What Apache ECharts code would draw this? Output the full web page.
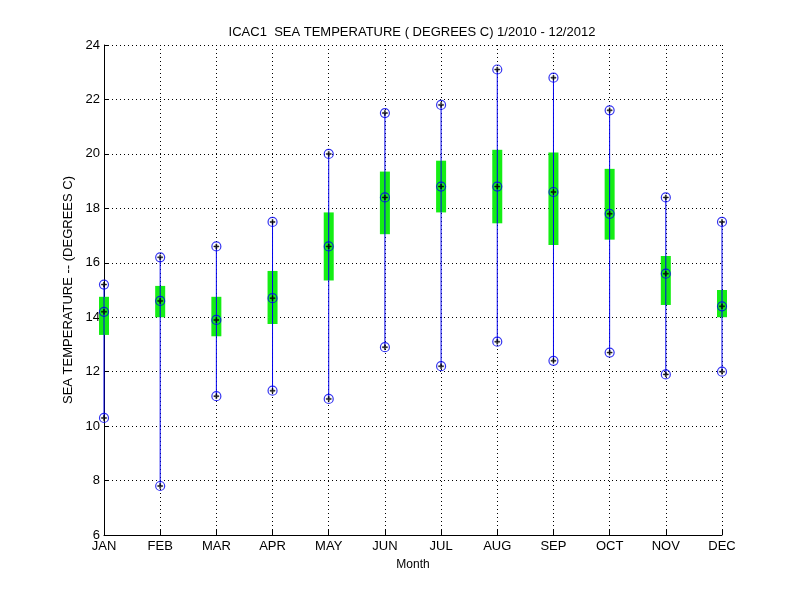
<!DOCTYPE html>
<html>
<head>
<meta charset="utf-8">
<script src="https://cdn.jsdelivr.net/npm/echarts@6/dist/echarts.min.js"></script>
<style>
  html, body { margin: 0; padding: 0; background: #fff; }
  #main { width: 800px; height: 600px; }
</style>
</head>
<body>
<div id="main"></div>
<script>
var months = ['JAN', 'FEB', 'MAR', 'APR', 'MAY', 'JUN', 'JUL', 'AUG', 'SEP', 'OCT', 'NOV', 'DEC'];
var maxTemp  = [15.2, 16.2, 16.6, 17.5, 20.0, 21.5, 21.8, 23.1, 22.8, 21.6, 18.4, 17.5];
var meanTemp = [14.2, 14.6, 13.9, 14.7, 16.6, 18.4, 18.8, 18.8, 18.6, 17.8, 15.6, 14.4];
var minTemp  = [10.3, 7.8, 11.1, 11.3, 11.0, 12.9, 12.2, 13.1, 12.4, 12.7, 11.9, 12.0];
var boxTop    = [14.75, 15.15, 14.75, 15.7, 17.85, 19.35, 19.75, 20.15, 20.05, 19.45, 16.25, 15.0];
var boxBottom = [13.35, 14.0, 13.3, 13.75, 15.35, 17.05, 17.85, 17.45, 16.65, 16.85, 14.45, 14.0];

var rangeData = [];
var pointData = [];
for (var i = 0; i < months.length; i++) {
    rangeData.push([i + 1, minTemp[i], maxTemp[i], boxBottom[i], boxTop[i]]);
    pointData.push([i + 1, maxTemp[i]]);
    pointData.push([i + 1, meanTemp[i]]);
    pointData.push([i + 1, minTemp[i]]);
}

var font = 'Liberation Sans, Arial, sans-serif';
var dotted = { color: '#000', width: 1, type: [1, 3] };

var myChart = echarts.init(document.getElementById('main'));
myChart.setOption({
    backgroundColor: '#fff',
    animation: false,
    title: {
        text: 'ICAC1  SEA TEMPERATURE ( DEGREES C) 1/2010 - 12/2012',
        left: 407,
        textAlign: 'center',
        top: 21,
        textStyle: { fontFamily: font, fontSize: 13, fontWeight: 'normal', color: '#000' }
    },
    grid: { left: 104, right: 78, top: 45, bottom: 65 },
    xAxis: {
        type: 'value',
        min: 1,
        max: 12,
        interval: 1,
        name: 'Month',
        nameLocation: 'middle',
        nameGap: 24,
        nameTextStyle: { fontFamily: font, fontSize: 12, color: '#000' },
        axisLine: { lineStyle: { color: '#000', width: 1 } },
        axisTick: { inside: true, length: 5, lineStyle: { color: '#000' } },
        axisLabel: {
            margin: 5,
            fontFamily: font, fontSize: 13, color: '#000',
            formatter: function (v) { return months[v - 1] || ''; }
        },
        splitLine: { show: true, lineStyle: dotted }
    },
    yAxis: {
        type: 'value',
        min: 6,
        max: 24,
        interval: 2,
        name: 'SEA TEMPERATURE -- (DEGREES C)',
        nameLocation: 'middle',
        nameGap: 16,
        nameTextStyle: { fontFamily: font, fontSize: 13, color: '#000' },
        axisLine: { show: true, lineStyle: { color: '#000', width: 1 } },
        axisTick: { show: true, inside: true, length: 5, lineStyle: { color: '#000' } },
        axisLabel: { margin: 4, fontFamily: font, fontSize: 13, color: '#000' },
        splitLine: { show: true, lineStyle: dotted }
    },
    series: [
        {
            type: 'custom',
            data: rangeData,
            z: 2,
            renderItem: function (params, api) {
                var x = api.value(0);
                var pLow = api.coord([x, api.value(1)]);
                var pHigh = api.coord([x, api.value(2)]);
                var bLow = api.coord([x, api.value(3)]);
                var bHigh = api.coord([x, api.value(4)]);
                var w = 10;
                return {
                    type: 'group',
                    children: [
                        {
                            type: 'rect',
                            shape: { x: bHigh[0] - w / 2, y: bHigh[1], width: w, height: bLow[1] - bHigh[1] },
                            style: { fill: '#14ee14' }
                        },
                        {
                            type: 'line',
                            shape: { x1: pHigh[0], y1: pHigh[1], x2: pLow[0], y2: pLow[1] },
                            style: { stroke: '#0000ee', lineWidth: 1 }
                        }
                    ]
                };
            }
        },
        {
            type: 'scatter',
            data: pointData,
            z: 3,
            symbol: 'circle',
            symbolSize: 9,
            itemStyle: { color: 'rgba(0,0,0,0)', borderColor: '#0000ee', borderWidth: 1.2 }
        },
        {
            type: 'scatter',
            data: pointData,
            z: 4,
            symbol: 'path://M2,0L3,0L3,2L5,2L5,3L3,3L3,5L2,5L2,3L0,3L0,2L2,2Z',
            symbolSize: 5,
            itemStyle: { color: '#000', borderColor: '#000', borderWidth: 0.6 }
        }
    ]
});
</script>
</body>
</html>
